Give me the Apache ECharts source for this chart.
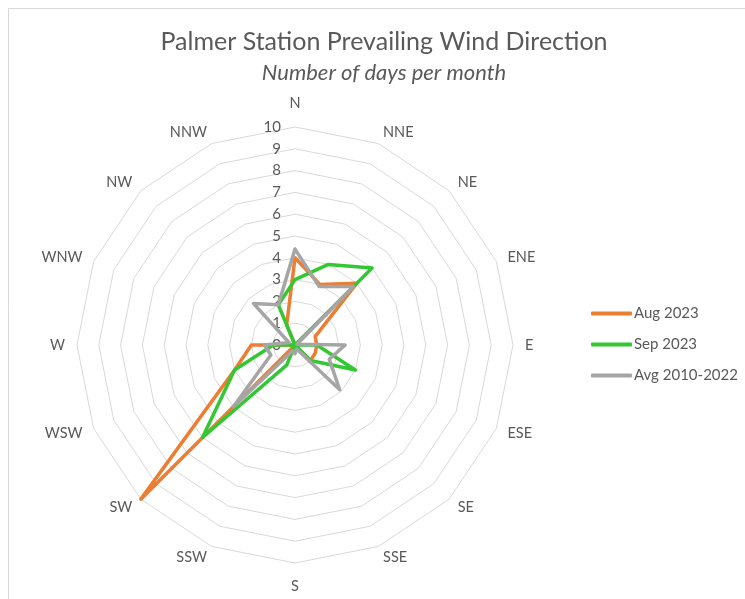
<!DOCTYPE html>
<html>
<head>
<meta charset="utf-8">
<title>Palmer Station Prevailing Wind Direction</title>
<script src="https://cdn.jsdelivr.net/npm/echarts@6/dist/echarts.min.js"></script>
<style>
  html, body { margin: 0; padding: 0; background: #ffffff; }
  #chart { width: 745px; height: 599px; }
</style>
</head>
<body>
<div id="chart"></div>
<script>
// Compass directions, clockwise from north
const directions = ['N', 'NNE', 'NE', 'ENE', 'E', 'ESE', 'SE', 'SSE',
                    'S', 'SSW', 'SW', 'WSW', 'W', 'WNW', 'NW', 'NNW'];

// Days per month with each prevailing wind direction (same order as directions)
const aug2023 = [4, 3, 4, 1, 1, 1, 1, 0, 0, 0, 10, 3, 2, 0, 0, 1];
const sep2023 = [3, 4, 5, 0, 1, 3, 1, 0, 0, 1, 6, 3, 1, 0, 0, 2];
const avg2010to2022 = [4.4, 2.9, 3.8, 0.1, 2.3, 1.7, 2.9, 0.2, 0.4, 0.3, 4, 1.2, 1.4, 0.3, 2.7, 2];

const seriesNames = ['Aug 2023', 'Sep 2023', 'Avg 2010-2022'];
const seriesColors = ['#ED7D31', '#33C833', '#A5A5A5'];

const axisMax = 10;
const tickLabels = ['0', '1', '2', '3', '4', '5', '6', '7', '8', '9', '10'];

// ECharts lays radar indicators out counter-clockwise, so walk the compass backwards
const order = [0].concat(directions.map((_, i) => i).slice(1).reverse());
const reorder = arr => order.map(i => arr[i]);

const indicators = order.map((i, k) => {
  const ind = { name: directions[i], min: 0, max: axisMax };
  if (k === 0) {
    ind.axisLabel = {
      show: true,
      color: '#595959',
      fontSize: 15,
      fontFamily: 'Lato',
      margin: 14,
      formatter: v => tickLabels[Math.round(v)]
    };
  }
  return ind;
});

const chart = echarts.init(document.getElementById('chart'), null, { renderer: 'canvas' });

chart.setOption({
  backgroundColor: '#ffffff',
  animation: false,
  title: [
    {
      text: 'Palmer Station Prevailing Wind Direction',
      left: 379, top: 24, textAlign: 'center',
      textStyle: { color: '#595959', fontSize: 25, fontWeight: 'normal', fontFamily: 'Lato' }
    },
    {
      text: 'Number of days per month',
      left: 379, top: 57, textAlign: 'center',
      textStyle: { color: '#595959', fontSize: 22, fontStyle: 'italic', fontWeight: 'normal', fontFamily: 'Lato' }
    }
  ],
  legend: {
    orient: 'vertical',
    left: 586, top: 301,
    itemWidth: 41, itemHeight: 4,
    itemGap: 16,
    icon: 'roundRect',
    textStyle: { color: '#595959', fontSize: 15, fontFamily: 'Lato', padding: [0, 0, 0, -3] },
    data: seriesNames
  },
  radar: {
    center: [295, 345],
    radius: 218,
    startAngle: 90,
    shape: 'polygon',
    splitNumber: 10,
    indicator: indicators,
    nameGap: 12,
    axisName: {
      color: '#595959', fontSize: 14.5, fontFamily: 'Lato',
      // the north and south labels sit a little further out
      formatter: name => name === 'N' ? '{n|' + name + '}' : name === 'S' ? '{s|' + name + '}' : name,
      rich: {
        n: { color: '#595959', fontSize: 14.5, fontFamily: 'Lato', padding: [0, 0, 4, 0] },
        s: { color: '#595959', fontSize: 14.5, fontFamily: 'Lato', padding: [4, 0, 0, 0] }
      }
    },
    splitLine: { lineStyle: { color: '#D9D9D9', width: 1 } },
    splitArea: { show: false },
    axisLine: { show: false },
    axisTick: { show: false },
    axisLabel: { show: false }
  },
  graphic: [
    {
      type: 'rect', silent: true, z: -1,
      shape: { x: 8.5, y: 8.5, width: 800, height: 700 },
      style: { fill: 'none', stroke: '#D9D9D9', lineWidth: 1 }
    }
  ],
  series: [
    {
      type: 'radar',
      symbol: 'none',
      data: [aug2023, sep2023, avg2010to2022].map((vals, s) => ({
        name: seriesNames[s],
        value: reorder(vals),
        lineStyle: { color: seriesColors[s], width: 3.5, join: 'round', cap: 'round' },
        itemStyle: { color: seriesColors[s] }
      }))
    }
  ]
});
</script>
</body>
</html>
